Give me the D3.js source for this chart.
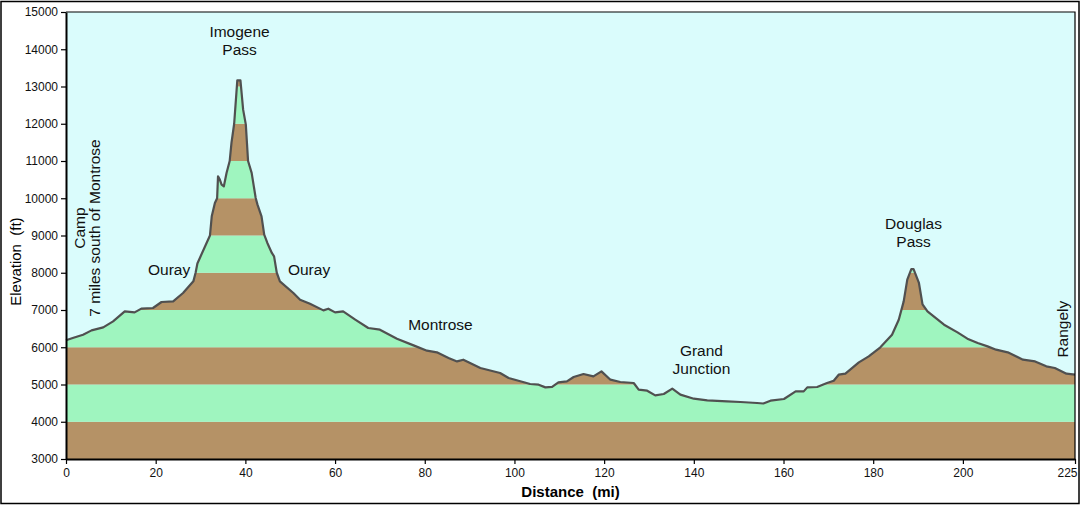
<!DOCTYPE html>
<html>
<head>
<meta charset="utf-8">
<script src="https://cdn.jsdelivr.net/npm/d3@7"></script>
<style>
  body { margin: 0; background: #fff; }
  svg { display: block; font-family: "Liberation Sans", Arial, sans-serif; }
</style>
</head>
<body>
<div id="chart"></div>
<script>
// profile: distance (mi) and elevation (ft)
const distance = [
  0, 1.5, 3.8, 5.7, 8.3, 10.5, 13.1, 15.3, 16.8, 19.4, 21.3, 23.9, 26.1, 28.4, 28.9, 29.3,
  32.1, 32.5, 33.2, 33.7, 33.9, 34.3, 34.7, 35.2, 35.8, 36.5, 36.9, 37.5, 38.0, 38.2, 38.9,
  39.5, 40.1, 40.6, 41.4, 42.3, 42.7, 43.6, 44.2, 44.9, 45.9, 46.4, 47.0, 47.7, 50.7, 52.2,
  54.4, 57.4, 58.5, 60.0, 61.8, 64.5, 67.4, 70.0, 73.8, 77.5, 80.5, 82.7, 85.3, 87.2, 88.6,
  92.4, 96.8, 98.7, 103.5, 105.4, 106.9, 108.4, 109.8, 111.7, 113.2, 115.4, 117.6, 119.4, 121.4,
  123.6, 126.6, 127.7, 129.6, 131.4, 133.3, 135.2, 137.0, 140.0, 143.0, 147.4, 150.4, 154.1,
  155.5, 157.1, 160.1, 162.7, 164.5, 165.3, 167.5, 169.7, 171.2, 172.3, 173.8, 176.8, 179.0,
  181.6, 184.2, 185.7, 186.8, 187.6, 188.5, 189.0, 190.2, 191.0, 192.1, 195.8, 198.8, 201.0,
  203.3, 205.5, 207.4, 210.0, 213.4, 216.1, 218.6, 220.5, 223.1, 225.0
];
const elevation = [
  6190, 6250, 6337, 6453, 6534, 6695, 6963, 6936, 7036, 7054, 7215, 7232, 7457, 7769, 8000, 8250,
  9000, 9514, 9874, 10000, 10588, 10500, 10365, 10320, 10680, 11000, 11485, 12000, 12830, 13166, 13166,
  12378, 11976, 11000, 10680, 10008, 9828, 9514, 9022, 8800, 8531, 8440, 8000, 7770, 7457, 7277,
  7170, 6990, 7035, 6936, 6963, 6740, 6517, 6472, 6230, 6050, 5908, 5863, 5712, 5620, 5666,
  5443, 5309, 5175, 5014, 4995, 4923, 4935, 5057, 5084, 5202, 5282, 5218, 5352, 5129,
  5067, 5040, 4861, 4834, 4708, 4745, 4888, 4727, 4619, 4573, 4547, 4530, 4503,
  4490, 4565, 4611, 4815, 4815, 4923, 4933, 5040, 5102, 5263, 5290, 5594, 5755,
  5997, 6337, 6740, 7232, 7814, 8100, 8100, 7726, 7150, 6963, 6606, 6400, 6230,
  6115, 6024, 5935, 5863, 5666, 5620, 5487, 5443, 5290, 5263
];

const xTicks = [0, 20, 40, 60, 80, 100, 120, 140, 160, 180, 200, 225];
const yTicks = d3.range(3000, 15001, 1000);

// place names on the profile
const labels = [
  { lines: ["Imogene", "Pass"], mi: 38.7, ft: 14330 },
  { lines: ["Ouray"], mi: 23.0, ft: 7950 },
  { lines: ["Ouray"], mi: 54.2, ft: 7950 },
  { lines: ["Montrose"], mi: 83.5, ft: 6470 },
  { lines: ["Grand", "Junction"], mi: 141.7, ft: 5755 },
  { lines: ["Douglas", "Pass"], mi: 189.0, ft: 9175 }
];
const sideLabels = [
  { lines: ["Camp", "7 miles south of Montrose"], mi: 4.2, ft: 9200 },
  { lines: ["Rangely"], mi: 223.4, ft: 6485 }
];

const W = 1081, H = 505;
const margin = { top: 12, right: 6, bottom: 46, left: 66 };

const svg = d3.select("#chart").append("svg")
  .attr("width", W)
  .attr("height", H);

// outer frame
svg.append("rect")
  .attr("x", 1).attr("y", 1.5)
  .attr("width", W - 3).attr("height", H - 3)
  .attr("fill", "none").attr("stroke", "#000").attr("stroke-width", 1.5);

const x = d3.scaleLinear().domain([0, 225]).range([margin.left, W - margin.right]);
const y = d3.scaleLinear().domain([3000, 15000]).range([H - margin.bottom, margin.top]);

// sky
svg.append("rect")
  .attr("x", x(0)).attr("y", y(15000))
  .attr("width", x(225) - x(0)).attr("height", y(3000) - y(15000))
  .attr("fill", "#dafcfc");

const profile = distance.map((d, i) => ({ mi: d, ft: elevation[i] }));

const area = d3.area()
  .x(d => x(d.mi))
  .y0(y(3000))
  .y1(d => y(d.ft));

svg.append("clipPath").attr("id", "ground")
  .append("path").attr("d", area(profile));

// alternating 1000 ft bands, cut to the profile
svg.append("g")
  .attr("clip-path", "url(#ground)")
  .selectAll("rect")
  .data(d3.range(3000, 15000, 1000))
  .join("rect")
    .attr("x", x(0))
    .attr("y", d => y(d + 1000))
    .attr("width", x(225) - x(0))
    .attr("height", d => y(d) - y(d + 1000))
    .attr("fill", (d, i) => i % 2 === 0 ? "#b59266" : "#9ff5bf");

svg.append("path")
  .datum(profile)
  .attr("d", d3.line().x(d => x(d.mi)).y(d => y(d.ft)))
  .attr("fill", "none")
  .attr("stroke", "#505050")
  .attr("stroke-width", 2.2)
  .attr("stroke-linejoin", "round");

// thin frame top / right
svg.append("path")
  .attr("d", `M${x(0)},${y(15000)}H${x(225)}V${y(3000)}`)
  .attr("fill", "none").attr("stroke", "#000").attr("stroke-width", 1.2);

// axes
const xAxis = svg.append("g")
  .attr("transform", `translate(0,${y(3000)})`)
  .call(d3.axisBottom(x).tickValues(xTicks).tickFormat(d3.format("d")).tickSize(5).tickSizeOuter(0).tickPadding(4));
const yAxis = svg.append("g")
  .attr("transform", `translate(${x(0)},0)`)
  .call(d3.axisLeft(y).tickValues(yTicks).tickFormat(d3.format("d")).tickSize(5).tickSizeOuter(0).tickPadding(3));

[xAxis, yAxis].forEach(g => {
  g.select(".domain").attr("stroke", "#000").attr("stroke-width", 2);
  g.selectAll(".tick line").attr("stroke", "#000").attr("stroke-width", 1.2);
  g.selectAll(".tick text")
    .attr("fill", "#111")
    .style("font-family", "'Liberation Sans', Arial, sans-serif")
    .style("font-size", "12px");
});
// last distance label sits inside the frame, flush right
xAxis.selectAll(".tick text")
  .filter(d => d === 225)
  .attr("text-anchor", "end")
  .attr("dx", 2);

// axis titles
svg.append("text")
  .attr("x", (x(0) + x(225)) / 2)
  .attr("y", 497)
  .attr("text-anchor", "middle")
  .style("font-size", "15px")
  .style("font-weight", "bold")
  .style("white-space", "pre")
  .text("Distance  (mi)");

svg.append("text")
  .attr("transform", `translate(21,${y(8300)}) rotate(-90)`)
  .attr("text-anchor", "middle")
  .style("font-size", "15px")
  .style("white-space", "pre")
  .text("Elevation  (ft)");

// place names
labels.forEach(l => {
  const t = svg.append("text")
    .attr("text-anchor", "middle")
    .style("font-size", "15.5px")
    .attr("fill", "#111");
  l.lines.forEach((s, i) => {
    t.append("tspan")
      .attr("x", x(l.mi))
      .attr("y", y(l.ft) + i * 17.8)
      .text(s);
  });
});

sideLabels.forEach(l => {
  const g = svg.append("g")
    .attr("transform", `translate(${x(l.mi)},${y(l.ft)}) rotate(-90)`);
  l.lines.forEach((s, i) => {
    g.append("text")
      .attr("x", 0)
      .attr("y", i * 15.5)
      .attr("text-anchor", "middle")
      .style("font-size", "15.5px")
      .attr("fill", "#111")
      .text(s);
  });
});
</script>
</body>
</html>
